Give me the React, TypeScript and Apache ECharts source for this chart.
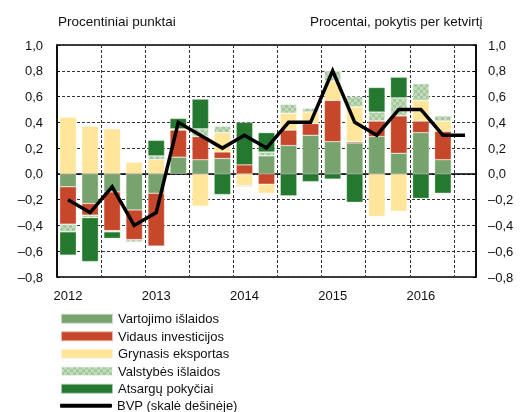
import React, { useEffect, useRef } from "react";
import * as echarts from "echarts";

const categories = [
  "2012", "", "", "",
  "2013", "", "", "",
  "2014", "", "", "",
  "2015", "", "", "",
  "2016", "", "",
];

const vartojimo = [-0.10, -0.23, -0.14, -0.28, -0.15, 0.13, 0.11, 0.12, 0, 0.14, 0.22, 0.30, 0.25, 0.24, 0.29, 0.16, 0.32, 0.11, null];
const vidaus = [-0.29, -0.09, -0.30, -0.23, -0.41, 0.21, 0.18, 0.05, 0.07, -0.08, 0.12, 0.09, 0.32, 0.01, 0.12, 0.29, 0.09, 0.22, null];
const grynasis = [0.44, 0.37, 0.35, 0.09, 0.11, 0.01, -0.25, 0.15, -0.09, -0.07, 0.13, 0.09, 0.15, 0.27, -0.33, -0.29, 0.16, 0.08, null];
const valstybes = [-0.06, -0.02, -0.01, -0.02, 0.03, 0, 0.06, 0.05, -0.01, 0.03, 0.07, 0.03, 0.08, 0.08, 0.07, 0.14, 0.13, 0.04, null];
const atsargu = [-0.18, -0.34, -0.05, 0, 0.12, 0.08, 0.23, -0.16, 0.33, 0.15, -0.17, -0.06, -0.04, -0.22, 0.19, 0.16, -0.19, -0.15, null];
const bvp = [-0.2, -0.3, -0.1, -0.4, -0.3, 0.4, 0.3, 0.2, 0.3, 0.2, 0.4, 0.4, 0.8, 0.4, 0.3, 0.5, 0.5, 0.3, 0.3];

const seriesNames = [
  "Vartojimo išlaidos",
  "Vidaus investicijos",
  "Grynasis eksportas",
  "Valstybės išlaidos",
  "Atsargų pokyčiai",
];
const lineName = "BVP (skalė dešinėje)";
const leftTitle = "Procentiniai punktai";
const rightTitle = "Procentai, pokytis per ketvirtį";

const FONT = "'Liberation Sans', Arial, sans-serif";
const TXT = "#111";

const fmt = (v: number) => {
  if (Math.abs(v) < 1e-9) return "0,0";
  const s = Math.abs(v).toFixed(1).replace(".", ",");
  return v < 0 ? "\u2013" + s : s;
};

export default function App() {
  const ref = useRef<HTMLDivElement>(null);
  useEffect(() => {
    if (!ref.current) return;
    const chart = echarts.init(ref.current, null, { renderer: "svg" });
    const colors = ["#76A36E", "#C7472A", "#FFE69A", "#A3C899", "#25792E"];
    const barData = [vartojimo, vidaus, grynasis, valstybes, atsargu];
    const barSeries = barData.map((d, i) => ({
      name: seriesNames[i],
      type: "bar",
      stack: "a",
      data: d,
      barWidth: "75%",
      yAxisIndex: 0,
      itemStyle: {
        color: colors[i],
        borderColor: "rgba(255,255,255,0.6)",
        borderWidth: 0.5,
        ...(i === 3
          ? {
              decal: {
                symbol: "rect",
                symbolSize: 1,
                color: "rgba(255,255,255,0.35)",
                dashArrayX: [[3, 3], [0, 3, 3, 0]],
                dashArrayY: [3, 0],
                rotation: 0,
              },
            }
          : {}),
      },
    }));
    const legendText = { fontFamily: FONT, fontSize: 13, color: TXT, lineHeight: 17.5 };
    const option: any = {
      animation: false,
      textStyle: { fontFamily: FONT, color: TXT },
      grid: { left: 57, top: 45, right: 48, bottom: 135, show: true, borderColor: "#000", borderWidth: 1.5, backgroundColor: "transparent" },
      legend: [
        {
          data: seriesNames,
          orient: "vertical",
          left: 55,
          top: 305,
          icon: "rect",
          itemWidth: 52,
          itemHeight: 10,
          itemGap: 0,
          textStyle: legendText,
        },
        {
          data: [{ name: lineName, icon: "roundRect" }],
          orient: "vertical",
          left: 55,
          top: 392,
          itemWidth: 52,
          itemHeight: 4,
          itemGap: 0,
          textStyle: legendText,
        },
      ],
      xAxis: {
        type: "category",
        data: categories,
        boundaryGap: true,
        axisLine: { show: true, lineStyle: { color: "#000", width: 1.5 } },
        axisTick: { show: false },
        axisLabel: { interval: 0, margin: 12, fontSize: 13, color: TXT, fontFamily: FONT },
        splitLine: { show: true, interval: 1, lineStyle: { color: "#333", type: [3, 2], width: 1 } },
      },
      yAxis: [
        {
          type: "value",
          min: -0.8,
          max: 1.0,
          interval: 0.2,
          axisLine: { show: true, lineStyle: { color: "#000", width: 1.5 } },
          axisTick: { show: true, inside: true, length: 3, lineStyle: { color: "#000" } },
          axisLabel: { formatter: fmt, margin: 14, fontSize: 13, color: TXT, fontFamily: FONT },
          splitLine: { show: true, lineStyle: { color: "#333", type: [3, 2], width: 1 } },
        },
        {
          type: "value",
          min: -0.8,
          max: 1.0,
          interval: 0.2,
          position: "right",
          axisLine: { show: true, lineStyle: { color: "#000", width: 1.5 } },
          axisTick: { show: true, inside: true, length: 3, lineStyle: { color: "#000" } },
          axisLabel: { formatter: fmt, margin: 12, fontSize: 13, color: TXT, fontFamily: FONT },
          splitLine: { show: false },
        },
      ],
      graphic: [
        { type: "text", left: 58, top: 14, style: { text: leftTitle, font: `13.5px ${FONT}`, fill: TXT } },
        { type: "text", left: 310, top: 14, style: { text: rightTitle, font: `13.5px ${FONT}`, fill: TXT } },
      ],
      series: [
        ...barSeries,
        {
          name: lineName,
          type: "line",
          yAxisIndex: 1,
          data: bvp,
          symbol: "none",
          z: 10,
          itemStyle: { color: "#000" },
          lineStyle: { color: "#000", width: 3.5, join: "miter", cap: "butt" },
        },
      ],
    };
    chart.setOption(option);
    return () => chart.dispose();
  }, []);
  return <div ref={ref} style={{ position: "fixed", left: 0, top: 0, width: 524, height: 412 }} />;
}
